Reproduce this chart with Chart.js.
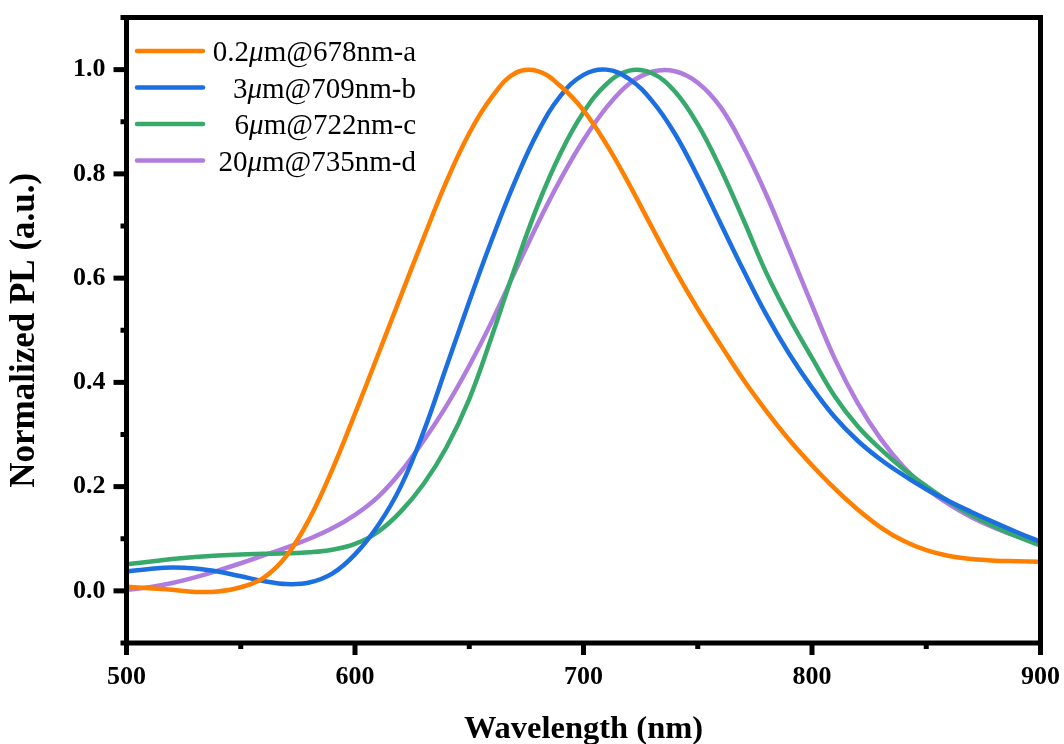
<!DOCTYPE html>
<html>
<head>
<meta charset="utf-8">
<script src="https://cdn.jsdelivr.net/npm/chart.js@4.4.0/dist/chart.umd.min.js"></script>
<style>
  body { margin: 0; background: #fff; }
  canvas { display: block; }
</style>
</head>
<body>
<canvas id="chart" width="1064" height="744"></canvas>
<script>
/* DATA */
const wavelengths = [500, 510, 520, 530, 540, 550, 560, 570, 580, 590,
  600, 610, 620, 630, 640, 650, 660, 670, 680, 690,
  700, 710, 720, 730, 740, 750, 760, 770, 780, 790,
  800, 810, 820, 830, 840, 850, 860, 870, 880, 890, 900];

const seriesA = [0.008, 0.005, 0.002, -0.002, -0.001, 0.007, 0.025, 0.067, 0.138, 0.232,
  0.340, 0.452, 0.565, 0.677, 0.785, 0.878, 0.948, 0.993, 0.997, 0.968,
  0.922, 0.857, 0.780, 0.697, 0.616, 0.541, 0.472, 0.405, 0.345, 0.290,
  0.241, 0.196, 0.156, 0.122, 0.096, 0.078, 0.067, 0.061, 0.058, 0.057, 0.056];

const seriesB = [0.037, 0.042, 0.045, 0.043, 0.037, 0.028, 0.019, 0.013, 0.016, 0.033,
  0.070, 0.125, 0.200, 0.305, 0.430, 0.555, 0.675, 0.785, 0.880, 0.950,
  0.990, 1.000, 0.982, 0.940, 0.877, 0.795, 0.705, 0.615, 0.530, 0.455,
  0.390, 0.333, 0.288, 0.252, 0.222, 0.195, 0.172, 0.151, 0.131, 0.112, 0.094];

const seriesC = [0.051, 0.056, 0.061, 0.065, 0.068, 0.070, 0.071, 0.072, 0.074, 0.079,
  0.090, 0.113, 0.152, 0.205, 0.275, 0.368, 0.490, 0.620, 0.740, 0.840,
  0.918, 0.972, 0.998, 0.993, 0.958, 0.895, 0.810, 0.712, 0.610, 0.524,
  0.447, 0.373, 0.316, 0.272, 0.234, 0.201, 0.171, 0.145, 0.123, 0.104, 0.087];

const seriesD = [0.002, 0.007, 0.015, 0.026, 0.039, 0.053, 0.068, 0.083, 0.100, 0.120,
  0.146, 0.180, 0.228, 0.288, 0.355, 0.432, 0.518, 0.612, 0.705, 0.790,
  0.865, 0.927, 0.973, 0.996, 0.997, 0.975, 0.928, 0.852, 0.760, 0.655,
  0.548, 0.445, 0.360, 0.292, 0.238, 0.197, 0.166, 0.141, 0.121, 0.104, 0.090];

const labels = ["0.2μm@678nm-a", "3μm@709nm-b", "6μm@722nm-c", "20μm@735nm-d"];
const colors = ["#ff8000", "#1b6fe0", "#37aa6b", "#b07ddf"];

const SERIF = '"Liberation Serif", "Times New Roman", serif';

function points(values) {
  return wavelengths.map((w, i) => ({ x: w, y: values[i] }));
}

/* frame, ticks, legend */
const framePlugin = {
  id: "frame",
  afterDraw(c) {
    const ctx = c.ctx, a = c.chartArea;
    const xs = c.scales.x, ys = c.scales.y;
    ctx.save();
    ctx.strokeStyle = "#000";
    ctx.lineCap = "butt";
    ctx.lineWidth = 5;

    ys.ticks.forEach(t => {
      const y = ys.getPixelForValue(t.value);
      const len = t.label !== "" ? 13 : 6;
      ctx.beginPath();
      ctx.moveTo(a.left, y);
      ctx.lineTo(a.left - len, y);
      ctx.stroke();
    });
    xs.ticks.forEach(t => {
      const x = xs.getPixelForValue(t.value);
      const len = t.label !== "" ? 12 : 6;
      ctx.beginPath();
      ctx.moveTo(x, a.bottom);
      ctx.lineTo(x, a.bottom + len);
      ctx.stroke();
    });

    ctx.lineJoin = "miter";
    ctx.strokeRect(a.left, a.top, a.right - a.left, a.bottom - a.top);

    // legend
    const right = 416;
    const normal = "29px " + SERIF;
    const italic = "italic 29px " + SERIF;
    c.data.datasets.forEach((ds, i) => {
      const y = 51 + i * 36.5;
      ctx.strokeStyle = ds.borderColor;
      ctx.lineWidth = 4.5;
      ctx.lineCap = "round";
      ctx.beginPath();
      ctx.moveTo(137, y);
      ctx.lineTo(203, y);
      ctx.stroke();

      const [pre, post] = ds.label.split("μ");
      ctx.font = normal;
      const w1 = ctx.measureText(pre).width;
      const w3 = ctx.measureText(post).width;
      ctx.font = italic;
      const w2 = ctx.measureText("μ").width;
      let x = right - (w1 + w2 + w3);
      ctx.fillStyle = "#000";
      ctx.textBaseline = "alphabetic";
      ctx.textAlign = "left";
      ctx.font = normal;
      ctx.fillText(pre, x, y + 10);
      x += w1;
      ctx.font = italic;
      ctx.fillText("μ", x, y + 10);
      x += w2;
      ctx.font = normal;
      ctx.fillText(post, x, y + 10);
    });
    ctx.restore();
  }
};

const chart = new Chart(document.getElementById("chart").getContext("2d"), {
  type: "line",
  data: {
    datasets: [seriesA, seriesB, seriesC, seriesD].map((s, i) => ({
      label: labels[i],
      data: points(s),
      borderColor: colors[i],
      backgroundColor: colors[i],
      borderWidth: 4.5,
      pointRadius: 0,
      tension: 0.4,
      fill: false
    }))
  },
  options: {
    responsive: false,
    animation: false,
    layout: { padding: { top: 17.5, right: 23.5, left: 0, bottom: 0 } },
    plugins: {
      legend: { display: false },
      tooltip: { enabled: false }
    },
    scales: {
      x: {
        type: "linear",
        min: 500,
        max: 900,
        afterFit: s => {
          s.height = 101;
          s.paddingLeft = 0;
          s.paddingRight = 0;
        },
        grid: { display: false, drawTicks: false },
        border: { display: false },
        ticks: {
          stepSize: 50,
          autoSkip: false,
          maxRotation: 0,
          padding: 19,
          color: "#000",
          font: { family: SERIF, size: 26, weight: "bold" },
          callback: v => (v % 100 === 0 ? String(v) : "")
        },
        title: {
          display: true,
          text: "Wavelength (nm)",
          color: "#000",
          padding: 0,
          font: { family: SERIF, size: 32.5, weight: "bold", lineHeight: 0.9 }
        }
      },
      y: {
        min: -0.1,
        max: 1.1,
        afterFit: s => {
          s.width = 126.5;
          s.paddingTop = 0;
          s.paddingBottom = 0;
        },
        grid: { display: false, drawTicks: false },
        border: { display: false },
        ticks: {
          stepSize: 0.1,
          autoSkip: false,
          padding: 21,
          color: "#000",
          font: { family: SERIF, size: 26, weight: "bold" },
          callback: v => (Math.round(v * 10) % 2 === 0 ? v.toFixed(1) : "")
        },
        title: {
          display: true,
          text: "Normalized PL (a.u.)",
          color: "#000",
          padding: { top: 4 },
          font: { family: SERIF, size: 35, weight: "bold" }
        }
      }
    }
  },
  plugins: [framePlugin]
});
</script>
</body>
</html>
